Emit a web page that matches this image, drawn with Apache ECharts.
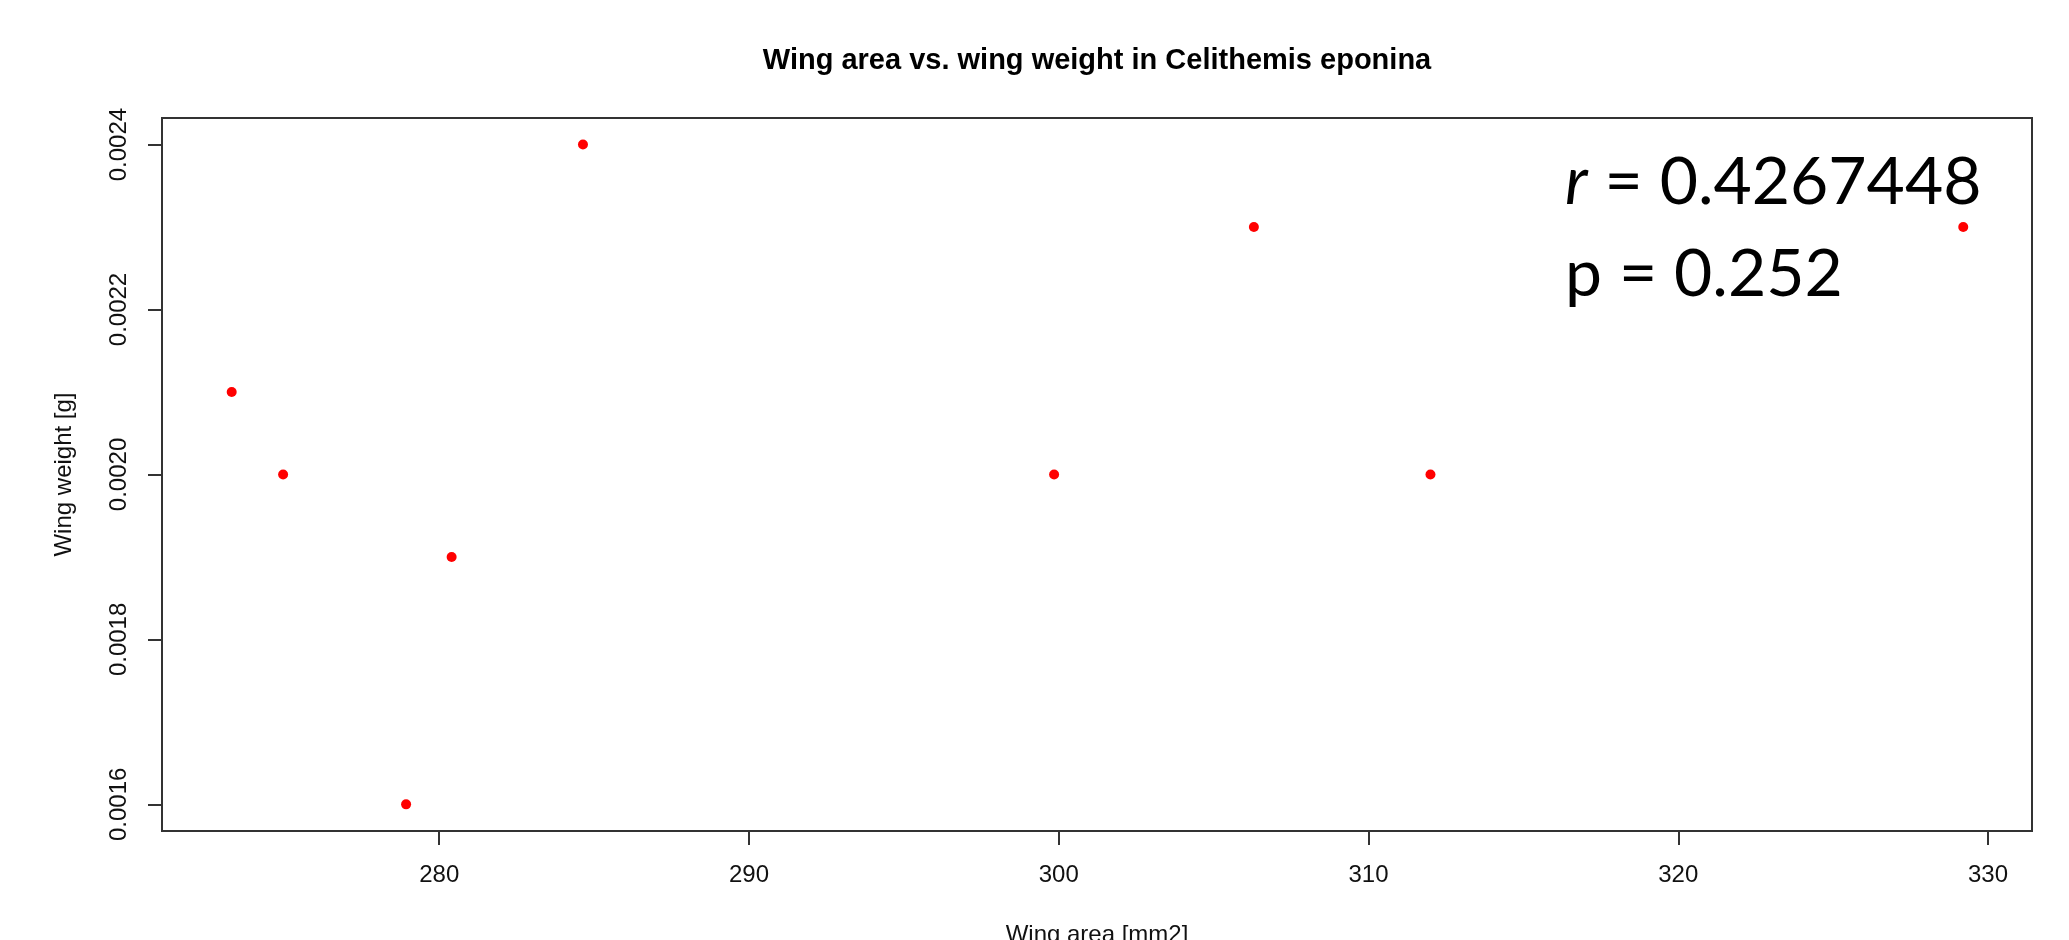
<!DOCTYPE html>
<html>
<head>
<meta charset="utf-8">
<script src="https://cdn.jsdelivr.net/npm/echarts@6/dist/echarts.min.js"></script>
<style>
html, body { margin: 0; padding: 0; background: #fff; }
#chart { width: 2069px; height: 940px; }
</style>
</head>
<body>
<div id="chart"></div>
<script>
// wing area [mm2] and wing weight [g] of each specimen
var wingArea = [273.3, 274.96, 278.93, 280.4, 284.64, 299.85, 306.3, 312.0, 329.2];
var wingWeight = [0.0021, 0.0020, 0.0016, 0.0019, 0.0024, 0.0020, 0.0023, 0.0020, 0.0023];

var xTicks = [280, 290, 300, 310, 320, 330];
var yTicks = [0.0016, 0.0018, 0.0020, 0.0022, 0.0024];

var chart = echarts.init(document.getElementById("chart"));

var points = wingArea.map(function (x, i) {
  return [x, wingWeight[i]];
});

var option = {
  backgroundColor: "#fff",
  animation: false,
  title: {
    text: "Wing area vs. wing weight in Celithemis eponina",
    left: 1092,
    top: 41,
    textAlign: "center",
    textStyle: {
      fontFamily: "Liberation Sans",
      fontWeight: "bold",
      fontSize: 29,
      color: "#000"
    }
  },
  grid: {
    left: 162,
    right: 37,
    top: 118,
    bottom: 109,
    outerBoundsMode: "none",
    show: true,
    borderColor: "#333",
    borderWidth: 2
  },
  xAxis: {
    type: "value",
    min: 271.05,
    max: 331.42,
    name: "Wing area [mm2]",
    nameLocation: "middle",
    nameGap: 92,
    nameTextStyle: { fontFamily: "Liberation Sans", fontSize: 24, color: "#111" },
    splitLine: { show: false },
    axisLine: { show: true, onZero: false, lineStyle: { color: "#333", width: 2 } },
    axisTick: { show: true, length: 14, customValues: xTicks, lineStyle: { color: "#333", width: 2 } },
    axisLabel: {
      customValues: xTicks,
      margin: 32,
      fontFamily: "Liberation Sans",
      fontSize: 24,
      color: "#111"
    }
  },
  yAxis: {
    type: "value",
    min: 0.0015677,
    max: 0.0024322,
    name: "Wing weight [g]",
    nameLocation: "middle",
    nameGap: 86,
    nameRotate: 90,
    nameTextStyle: { fontFamily: "Liberation Sans", fontSize: 24, color: "#111" },
    splitLine: { show: false },
    axisLine: { show: true, onZero: false, lineStyle: { color: "#333", width: 2 } },
    axisTick: { show: true, length: 14, customValues: yTicks, lineStyle: { color: "#333", width: 2 } },
    axisLabel: {
      customValues: yTicks,
      rotate: 90,
      margin: 31,
      fontFamily: "Liberation Sans",
      fontSize: 24,
      color: "#111",
      formatter: function (v) { return v.toFixed(4); }
    }
  },
  graphic: [
    {
      type: "text",
      left: 1565,
      top: 150,
      style: {
        text: "{i|r} = 0.4267448",
        font: "66px Lato",
        fill: "#000",
        rich: {
          i: { fontStyle: "italic", fontSize: 66, fontFamily: "Lato", fill: "#000" }
        }
      }
    },
    {
      type: "text",
      left: 1565,
      top: 242,
      style: {
        text: "p = 0.252",
        font: "66px Lato",
        fill: "#000"
      }
    }
  ],
  series: [
    {
      type: "scatter",
      data: points,
      symbol: "circle",
      symbolSize: 10,
      itemStyle: { color: "#ff0000", opacity: 1 }
    }
  ]
};

chart.setOption(option);
</script>
</body>
</html>
